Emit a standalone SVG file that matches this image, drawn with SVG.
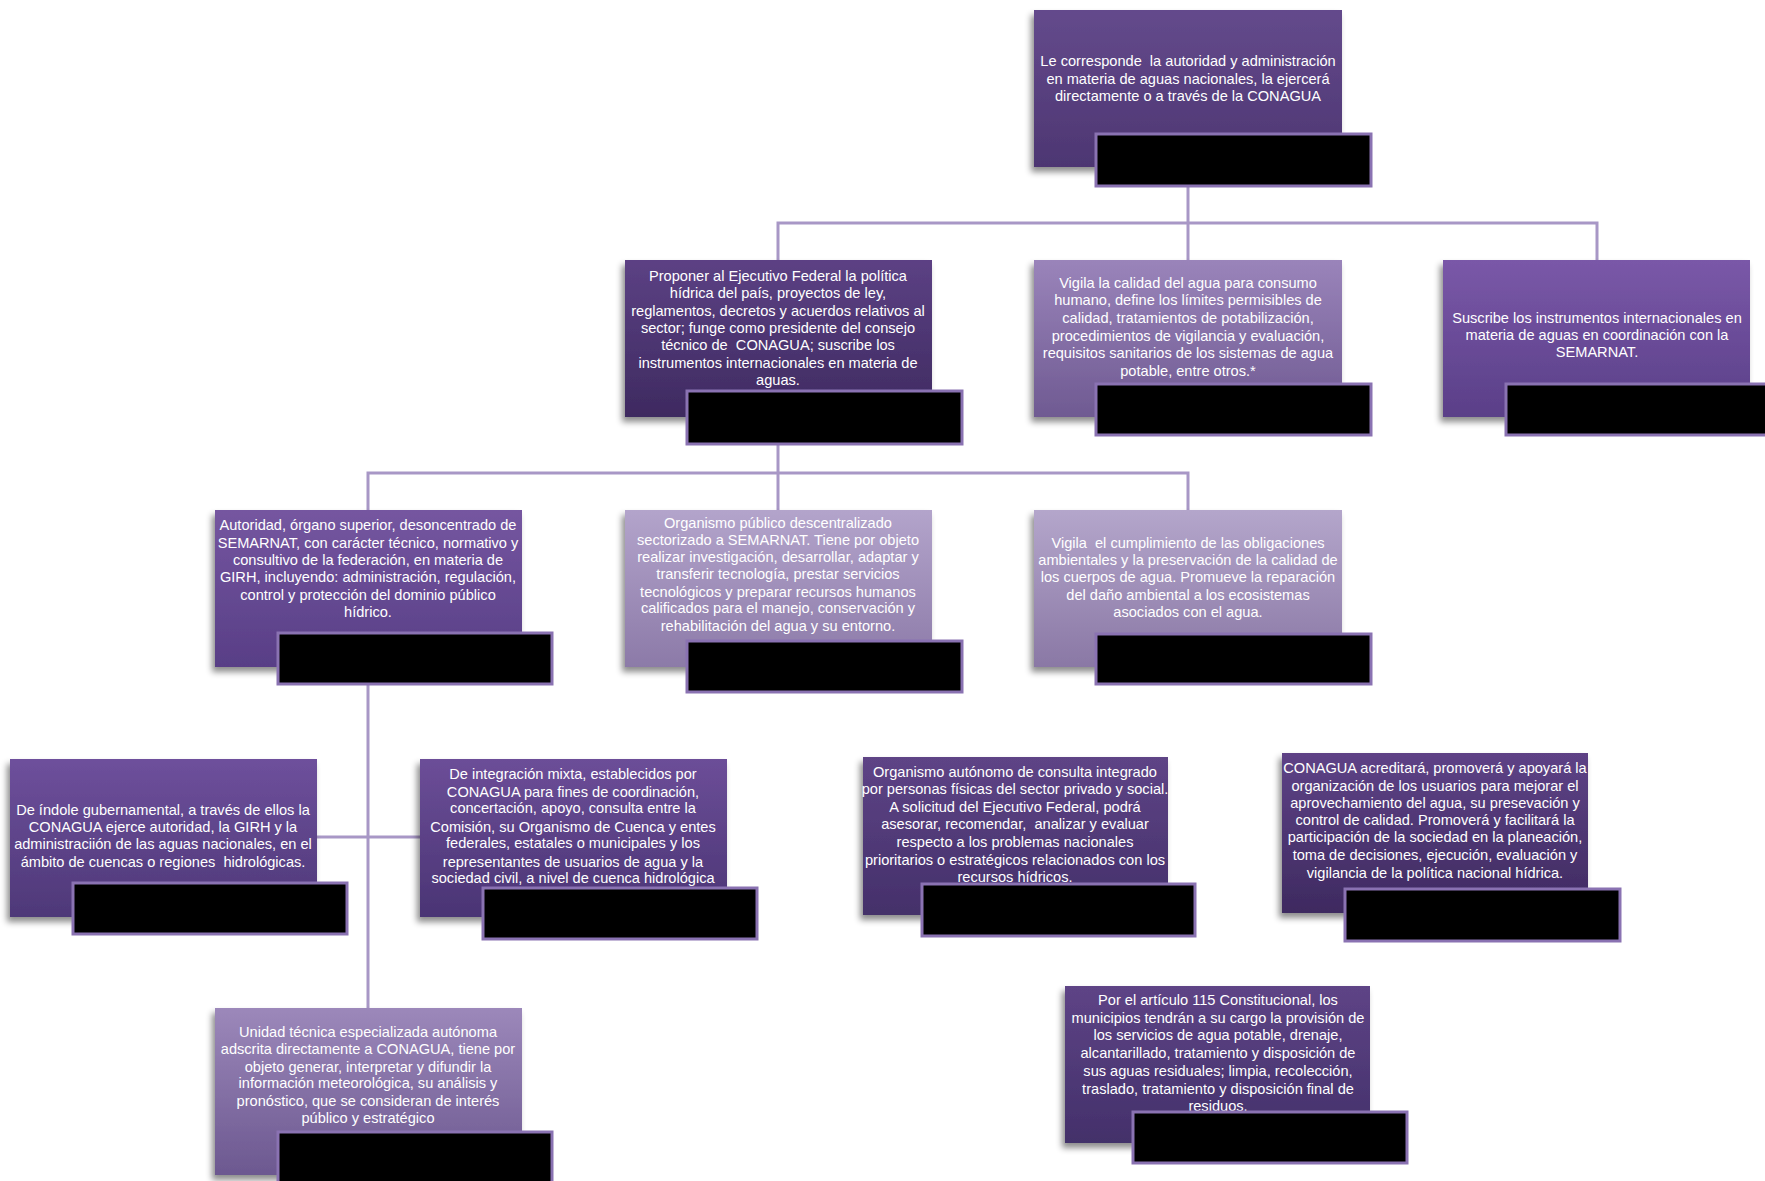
<svg xmlns="http://www.w3.org/2000/svg" width="1765" height="1181" viewBox="0 0 1765 1181">
<style>
.t{font-family:"Liberation Sans",Arial,sans-serif;font-size:14.6px;fill:#ffffff;text-anchor:middle;white-space:pre}
.lbl{fill:#000000;stroke:#8a72b2;stroke-width:3}
.con{fill:none;stroke:#a897c6;stroke-width:3}
.box{filter:url(#sh)}
</style>
<defs>
<filter id="sh" x="-10%" y="-10%" width="120%" height="130%">
<feDropShadow dx="-3" dy="5" stdDeviation="3" flood-color="#000" flood-opacity="0.45"/>
</filter>
<linearGradient id="g1" x1="0" y1="0" x2="0" y2="1"><stop offset="0" stop-color="#644a8c"/><stop offset="1" stop-color="#4d3672"/></linearGradient>
<linearGradient id="g2" x1="0" y1="0" x2="0" y2="1"><stop offset="0" stop-color="#5c4184"/><stop offset="1" stop-color="#3e2a60"/></linearGradient>
<linearGradient id="g3" x1="0" y1="0" x2="0" y2="1"><stop offset="0" stop-color="#9a84ba"/><stop offset="1" stop-color="#6f5a92"/></linearGradient>
<linearGradient id="g4" x1="0" y1="0" x2="0" y2="1"><stop offset="0" stop-color="#7a58a8"/><stop offset="1" stop-color="#5a3f88"/></linearGradient>
<linearGradient id="g5" x1="0" y1="0" x2="0" y2="1"><stop offset="0" stop-color="#7556a0"/><stop offset="1" stop-color="#583e86"/></linearGradient>
<linearGradient id="g6" x1="0" y1="0" x2="0" y2="1"><stop offset="0" stop-color="#b3a4cb"/><stop offset="1" stop-color="#8c7aa8"/></linearGradient>
<linearGradient id="g7" x1="0" y1="0" x2="0" y2="1"><stop offset="0" stop-color="#b4a6cb"/><stop offset="1" stop-color="#8a78a5"/></linearGradient>
<linearGradient id="g8" x1="0" y1="0" x2="0" y2="1"><stop offset="0" stop-color="#6e509c"/><stop offset="1" stop-color="#4e3878"/></linearGradient>
<linearGradient id="g9" x1="0" y1="0" x2="0" y2="1"><stop offset="0" stop-color="#6c4e98"/><stop offset="1" stop-color="#4a3474"/></linearGradient>
<linearGradient id="g10" x1="0" y1="0" x2="0" y2="1"><stop offset="0" stop-color="#5e4486"/><stop offset="1" stop-color="#44306a"/></linearGradient>
<linearGradient id="g11" x1="0" y1="0" x2="0" y2="1"><stop offset="0" stop-color="#5e4286"/><stop offset="1" stop-color="#3e2a60"/></linearGradient>
<linearGradient id="g12" x1="0" y1="0" x2="0" y2="1"><stop offset="0" stop-color="#9c88ba"/><stop offset="1" stop-color="#6c5890"/></linearGradient>
<linearGradient id="g13" x1="0" y1="0" x2="0" y2="1"><stop offset="0" stop-color="#5e4486"/><stop offset="1" stop-color="#43306a"/></linearGradient>
</defs>
<rect width="1765" height="1181" fill="#ffffff"/>

<g id="connectors">
<polyline class="con" points="1188,187 1188,260"/>
<polyline class="con" points="778,260 778,223 1597,223 1597,260"/>
<polyline class="con" points="778,445 778,510"/>
<polyline class="con" points="368,510 368,473 1188,473 1188,510"/>
<polyline class="con" points="368,685 368,1008"/>
<polyline class="con" points="317,837 420,837"/>
</g>

<g id="n1">
<rect class="box" x="1034" y="10" width="308" height="157" fill="url(#g1)"/>
<text class="t" x="1188" y="66" xml:space="preserve">Le corresponde  la autoridad y administración</text>
<text class="t" x="1188" y="84">en materia de aguas nacionales, la ejercerá</text>
<text class="t" x="1188" y="101">directamente o a través de la CONAGUA</text>
<rect class="lbl" x="1096" y="134" width="275" height="52"/>
</g>

<g id="n2">
<rect class="box" x="625" y="260" width="307" height="157" fill="url(#g2)"/>
<text class="t" x="778" y="281">Proponer al Ejecutivo Federal la política</text>
<text class="t" x="778" y="298">hídrica del país, proyectos de ley,</text>
<text class="t" x="778" y="316">reglamentos, decretos y acuerdos relativos al</text>
<text class="t" x="778" y="333">sector; funge como presidente del consejo</text>
<text class="t" x="778" y="350" xml:space="preserve">técnico de  CONAGUA; suscribe los</text>
<text class="t" x="778" y="368">instrumentos internacionales en materia de</text>
<text class="t" x="778" y="385">aguas.</text>
<rect class="lbl" x="687" y="391" width="275" height="53"/>
</g>

<g id="n3">
<rect class="box" x="1034" y="260" width="308" height="157" fill="url(#g3)"/>
<text class="t" x="1188" y="288">Vigila la calidad del agua para consumo</text>
<text class="t" x="1188" y="305">humano, define los límites permisibles de</text>
<text class="t" x="1188" y="323">calidad, tratamientos de potabilización,</text>
<text class="t" x="1188" y="341">procedimientos de vigilancia y evaluación,</text>
<text class="t" x="1188" y="358">requisitos sanitarios de los sistemas de agua</text>
<text class="t" x="1188" y="376">potable, entre otros.*</text>
<rect class="lbl" x="1096" y="384" width="275" height="51"/>
</g>

<g id="n4">
<rect class="box" x="1443" y="260" width="307" height="157" fill="url(#g4)"/>
<text class="t" x="1597" y="323">Suscribe los instrumentos internacionales en</text>
<text class="t" x="1597" y="340">materia de aguas en coordinación con la</text>
<text class="t" x="1597" y="357">SEMARNAT.</text>
<rect class="lbl" x="1506" y="384" width="265" height="51"/>
</g>

<g id="n5">
<rect class="box" x="215" y="510" width="307" height="157" fill="url(#g5)"/>
<text class="t" x="368" y="530">Autoridad, órgano superior, desoncentrado de</text>
<text class="t" x="368" y="548">SEMARNAT, con carácter técnico, normativo y</text>
<text class="t" x="368" y="565">consultivo de la federación, en materia de</text>
<text class="t" x="368" y="582">GIRH, incluyendo: administración, regulación,</text>
<text class="t" x="368" y="600">control y protección del dominio público</text>
<text class="t" x="368" y="617">hídrico.</text>
<rect class="lbl" x="278" y="633" width="274" height="51"/>
</g>

<g id="n6">
<rect class="box" x="625" y="510" width="307" height="157" fill="url(#g6)"/>
<text class="t" x="778" y="528">Organismo público descentralizado</text>
<text class="t" x="778" y="545">sectorizado a SEMARNAT. Tiene por objeto</text>
<text class="t" x="778" y="562">realizar investigación, desarrollar, adaptar y</text>
<text class="t" x="778" y="579">transferir tecnología, prestar servicios</text>
<text class="t" x="778" y="597">tecnológicos y preparar recursos humanos</text>
<text class="t" x="778" y="613">calificados para el manejo, conservación y</text>
<text class="t" x="778" y="631">rehabilitación del agua y su entorno.</text>
<rect class="lbl" x="687" y="641" width="275" height="51"/>
</g>

<g id="n7">
<rect class="box" x="1034" y="510" width="308" height="157" fill="url(#g7)"/>
<text class="t" x="1188" y="548" xml:space="preserve">Vigila  el cumplimiento de las obligaciones</text>
<text class="t" x="1188" y="565">ambientales y la preservación de la calidad de</text>
<text class="t" x="1188" y="582">los cuerpos de agua. Promueve la reparación</text>
<text class="t" x="1188" y="600">del daño ambiental a los ecosistemas</text>
<text class="t" x="1188" y="617">asociados con el agua.</text>
<rect class="lbl" x="1096" y="634" width="275" height="50"/>
</g>

<g id="n8">
<rect class="box" x="10" y="759" width="307" height="158" fill="url(#g8)"/>
<text class="t" x="163" y="815">De índole gubernamental, a través de ellos la</text>
<text class="t" x="163" y="832">CONAGUA ejerce autoridad, la GIRH y la</text>
<text class="t" x="163" y="849">administraciión de las aguas nacionales, en el</text>
<text class="t" x="163" y="867" xml:space="preserve">ámbito de cuencas o regiones  hidrológicas.</text>
<rect class="lbl" x="73" y="883" width="274" height="51"/>
</g>

<g id="n9">
<rect class="box" x="420" y="759" width="307" height="158" fill="url(#g9)"/>
<text class="t" x="573" y="779">De integración mixta, establecidos por</text>
<text class="t" x="573" y="797">CONAGUA para fines de coordinación,</text>
<text class="t" x="573" y="813">concertación, apoyo, consulta entre la</text>
<text class="t" x="573" y="832">Comisión, su Organismo de Cuenca y entes</text>
<text class="t" x="573" y="848">federales, estatales o municipales y los</text>
<text class="t" x="573" y="867">representantes de usuarios de agua y la</text>
<text class="t" x="573" y="883">sociedad civil, a nivel de cuenca hidrológica</text>
<rect class="lbl" x="483" y="888" width="274" height="51"/>
</g>

<g id="n10">
<rect class="box" x="863" y="757" width="305" height="158" fill="url(#g10)"/>
<text class="t" x="1015" y="777">Organismo autónomo de consulta integrado</text>
<text class="t" x="1015" y="794">por personas físicas del sector privado y social.</text>
<text class="t" x="1015" y="812">A solicitud del Ejecutivo Federal, podrá</text>
<text class="t" x="1015" y="829" xml:space="preserve">asesorar, recomendar,  analizar y evaluar</text>
<text class="t" x="1015" y="847">respecto a los problemas nacionales</text>
<text class="t" x="1015" y="865">prioritarios o estratégicos relacionados con los</text>
<text class="t" x="1015" y="882">recursos hídricos.</text>
<rect class="lbl" x="922" y="884" width="273" height="52"/>
</g>

<g id="n11">
<rect class="box" x="1282" y="753" width="306" height="160" fill="url(#g11)"/>
<text class="t" x="1435" y="773">CONAGUA acreditará, promoverá y apoyará la</text>
<text class="t" x="1435" y="791">organización de los usuarios para mejorar el</text>
<text class="t" x="1435" y="808">aprovechamiento del agua, su presevación y</text>
<text class="t" x="1435" y="825">control de calidad. Promoverá y facilitará la</text>
<text class="t" x="1435" y="842">participación de la sociedad en la planeación,</text>
<text class="t" x="1435" y="860">toma de decisiones, ejecución, evaluación y</text>
<text class="t" x="1435" y="878">vigilancia de la política nacional hídrica.</text>
<rect class="lbl" x="1345" y="889" width="275" height="52"/>
</g>

<g id="n12">
<rect class="box" x="215" y="1008" width="307" height="167" fill="url(#g12)"/>
<text class="t" x="368" y="1037">Unidad técnica especializada autónoma</text>
<text class="t" x="368" y="1054">adscrita directamente a CONAGUA, tiene por</text>
<text class="t" x="368" y="1072">objeto generar, interpretar y difundir la</text>
<text class="t" x="368" y="1088">información meteorológica, su análisis y</text>
<text class="t" x="368" y="1106">pronóstico, que se consideran de interés</text>
<text class="t" x="368" y="1123">público y estratégico</text>
<rect class="lbl" x="278" y="1132" width="274" height="60"/>
</g>

<g id="n13">
<rect class="box" x="1065" y="986" width="305" height="157" fill="url(#g13)"/>
<text class="t" x="1218" y="1005">Por el artículo 115 Constitucional, los</text>
<text class="t" x="1218" y="1023">municipios tendrán a su cargo la provisión de</text>
<text class="t" x="1218" y="1040">los servicios de agua potable, drenaje,</text>
<text class="t" x="1218" y="1058">alcantarillado, tratamiento y disposición de</text>
<text class="t" x="1218" y="1076">sus aguas residuales; limpia, recolección,</text>
<text class="t" x="1218" y="1094">traslado, tratamiento y disposición final de</text>
<text class="t" x="1218" y="1111">residuos.</text>
<rect class="lbl" x="1133" y="1112" width="274" height="51"/>
</g>
</svg>
